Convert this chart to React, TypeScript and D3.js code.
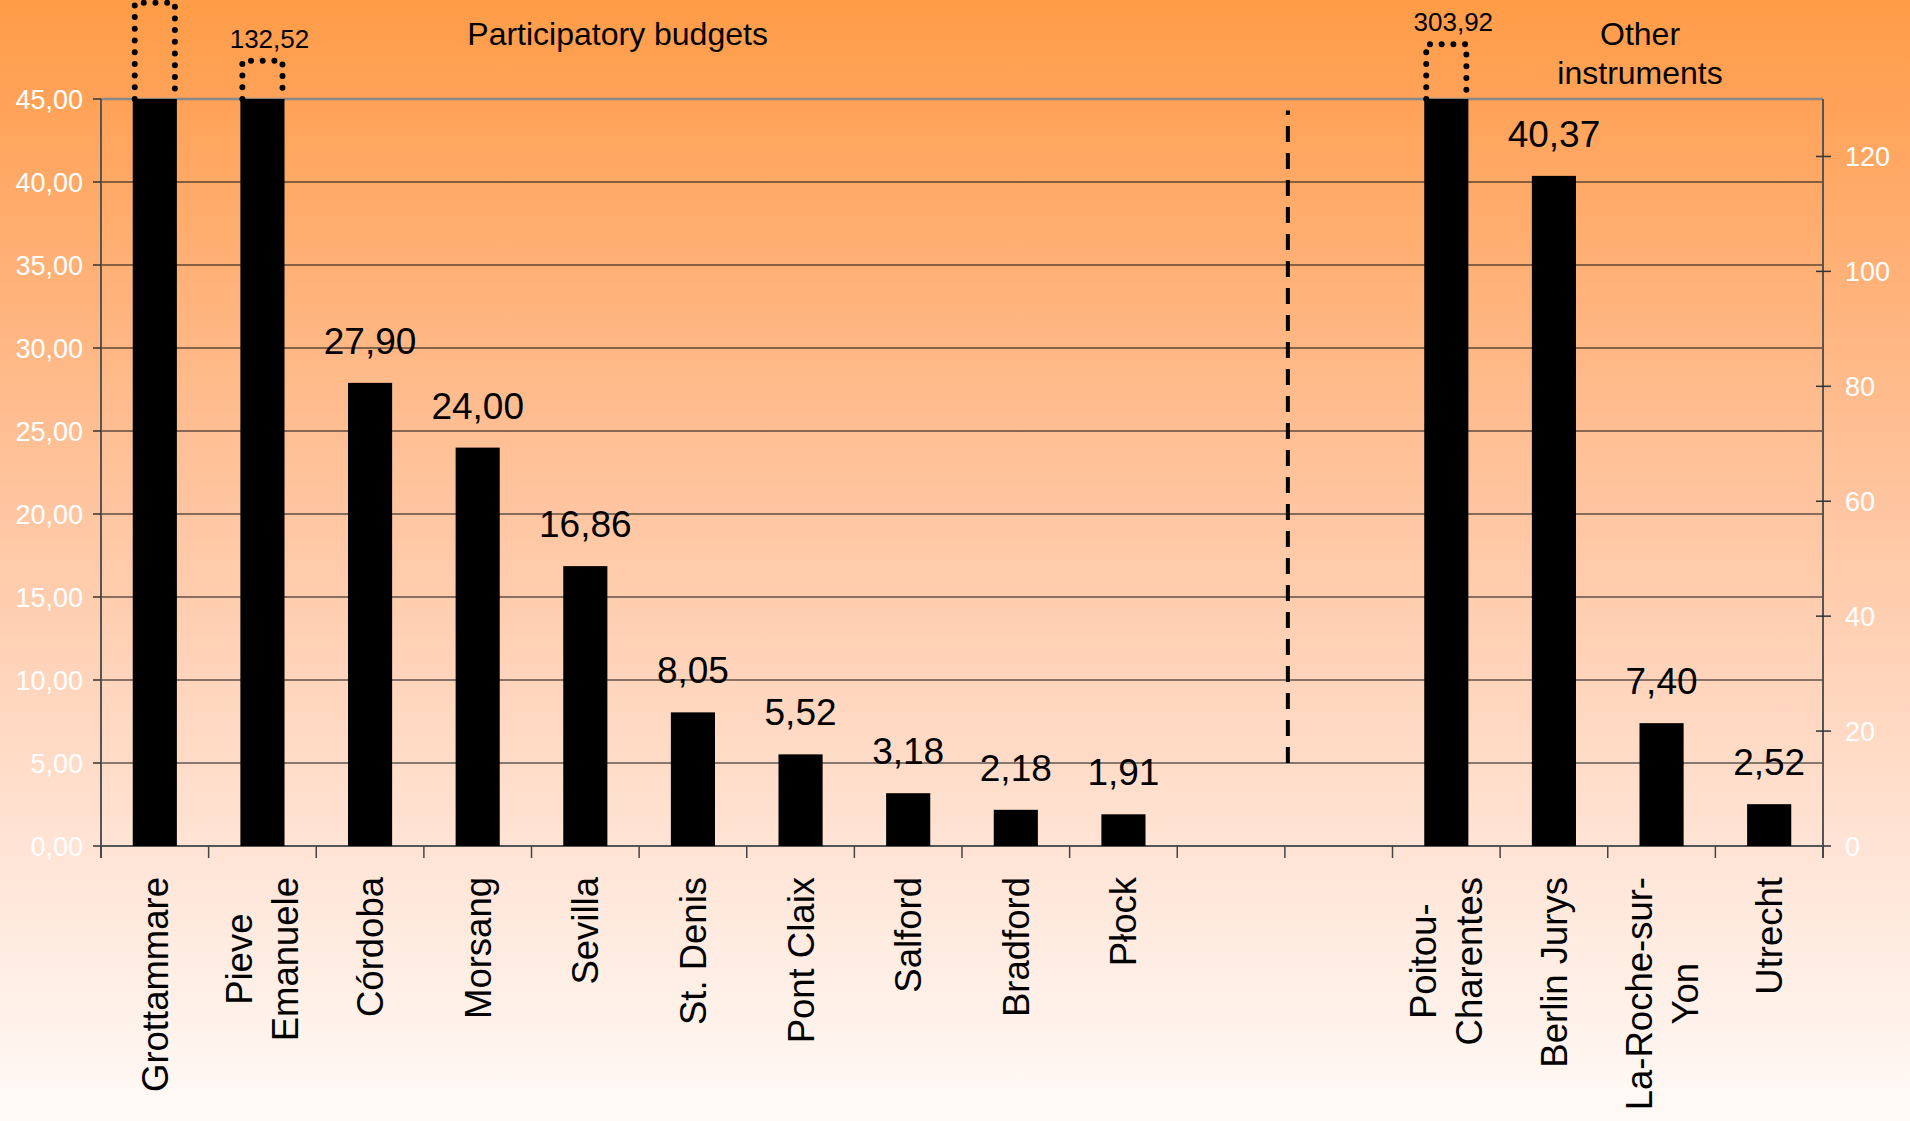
import React, { useRef, useEffect } from 'react';
import * as d3 from 'd3';

// slots, in drawing order; empty names are the gap between the two groups
const categories = [
  'Grottammare', 'Pieve\nEmanuele', 'Córdoba', 'Morsang', 'Sevilla', 'St. Denis',
  'Pont Claix', 'Salford', 'Bradford', 'Płock', '', '',
  'Poitou-\nCharentes', 'Berlin Jurys', 'La-Roche-sur-\nYon', 'Utrecht',
];
// null = off the chart, value not printed
const values = [null, 132.52, 27.9, 24.0, 16.86, 8.05, 5.52, 3.18, 2.18, 1.91, NaN, NaN, 303.92, 40.37, 7.4, 2.52];
// how far the dotted "break" box climbs above the axis top (left-axis units)
const breakTo = [50.8, 47.3, 0, 0, 0, 0, 0, 0, 0, 0, 0, 0, 48.3, 0, 0, 0];
const leftTicks = [0, 5, 10, 15, 20, 25, 30, 35, 40, 45];
const rightTicks = [0, 20, 40, 60, 80, 100, 120];
// group titles, centred at a slot position
const groupTitles = [
  { text: ['Participatory budgets'], at: 4.8 },
  { text: ['Other', 'instruments'], at: 14.3 },
];

const W = 1910;
const H = 1121;
const FONT = "'Liberation Sans', Arial, sans-serif";

const App = () => {
  const svgRef = useRef<SVGSVGElement>(null);

  useEffect(() => {
    const svg = d3.select(svgRef.current);
    svg.selectAll('*').remove();

    const left = 101, right = 1823, top = 99, bottom = 846;
    const fmt = (v: number) => v.toFixed(2).replace('.', ',');

    const x = d3.scaleBand<number>().domain(d3.range(categories.length)).range([left, right]).padding(0);
    const y = d3.scaleLinear().domain([0, 45]).range([bottom, top]);
    const y2 = d3.scaleLinear().domain([0, 130]).range([bottom, top]);
    const bw = x.bandwidth() * 0.41;

    const defs = svg.append('defs');
    const grad = defs.append('linearGradient').attr('id', 'bg').attr('x1', 0).attr('y1', 0).attr('x2', 0).attr('y2', 1);
    [
      [0, '#ff9c47'],
      [0.1, '#ffa35a'],
      [0.45, '#ffc5a0'],
      [0.75, '#ffe3d4'],
      [1, '#fffaf7'],
    ].forEach(([o, c]) => grad.append('stop').attr('offset', o as number).attr('stop-color', c as string));
    svg.append('rect').attr('width', W).attr('height', H).attr('fill', 'url(#bg)');

    // gridlines
    svg.append('g').selectAll('line').data(leftTicks.filter((t) => t > 0)).join('line')
      .attr('x1', left).attr('x2', right)
      .attr('y1', (d) => y(d)).attr('y2', (d) => y(d))
      .attr('stroke', (d) => (d === 45 ? '#888' : '#111'))
      .attr('stroke-width', (d) => (d === 45 ? 2.5 : 1.2));

    // left axis
    const la = svg.append('g');
    la.append('line').attr('x1', left).attr('x2', left).attr('y1', top).attr('y2', bottom + 12)
      .attr('stroke', '#555').attr('stroke-width', 2);
    la.selectAll('line.t').data(leftTicks).join('line').attr('class', 't')
      .attr('x1', left - 8).attr('x2', left).attr('y1', (d) => y(d)).attr('y2', (d) => y(d))
      .attr('stroke', '#333').attr('stroke-width', 1.5);
    la.selectAll('text').data(leftTicks).join('text')
      .attr('x', left - 18).attr('y', (d) => y(d)).attr('dy', '0.36em')
      .attr('text-anchor', 'end').attr('fill', '#fff')
      .style('font-family', FONT).style('font-size', '27px')
      .text((d) => fmt(d));

    // right axis
    const ra = svg.append('g');
    ra.append('line').attr('x1', right).attr('x2', right).attr('y1', top).attr('y2', bottom + 12)
      .attr('stroke', '#555').attr('stroke-width', 2);
    ra.selectAll('line.t').data(rightTicks).join('line').attr('class', 't')
      .attr('x1', right - 7).attr('x2', right + 8).attr('y1', (d) => y2(d)).attr('y2', (d) => y2(d))
      .attr('stroke', '#333').attr('stroke-width', 1.5);
    ra.selectAll('text').data(rightTicks).join('text')
      .attr('x', right + 22).attr('y', (d) => y2(d)).attr('dy', '0.36em')
      .attr('text-anchor', 'start').attr('fill', '#fff')
      .style('font-family', FONT).style('font-size', '27px')
      .text((d) => d);

    // bottom axis
    svg.append('line').attr('x1', left).attr('x2', right).attr('y1', bottom).attr('y2', bottom)
      .attr('stroke', '#555').attr('stroke-width', 2);
    svg.append('g').selectAll('line').data(d3.range(categories.length + 1)).join('line')
      .attr('x1', (i) => left + i * x.step()).attr('x2', (i) => left + i * x.step())
      .attr('y1', bottom).attr('y2', bottom + 12)
      .attr('stroke', '#444').attr('stroke-width', 1.5);

    const items = categories.map((name, i) => ({ name, v: values[i], brk: breakTo[i], i }))
      .filter((d) => d.name !== '');
    const cx = (i: number) => (x(i) as number) + x.bandwidth() / 2;
    const barH = (v: number | null) => (v === null ? 45 : Math.min(v, 45));

    // bars
    svg.append('g').selectAll('rect').data(items).join('rect')
      .attr('x', (d) => cx(d.i) - bw / 2).attr('width', bw)
      .attr('y', (d) => y(barH(d.v))).attr('height', (d) => bottom - y(barH(d.v)))
      .attr('fill', '#000');

    // dotted break boxes for clipped bars
    const clipped = items.filter((d) => d.brk > 0);
    svg.append('g').selectAll('path').data(clipped).join('path')
      .attr('d', (d) => {
        const x0 = cx(d.i) - bw / 2 + 2, x1 = cx(d.i) + bw / 2 - 2;
        return `M${x0},${y(45)}V${y(d.brk)}H${x1}V${y(45)}`;
      })
      .attr('fill', 'none').attr('stroke', '#000').attr('stroke-width', 6)
      .attr('stroke-linecap', 'round').attr('stroke-dasharray', '0 11.7');

    // value labels
    svg.append('g').selectAll('text').data(items.filter((d) => d.v !== null)).join('text')
      .attr('x', (d) => cx(d.i) + (d.brk > 0 ? 7 : 0)).attr('text-anchor', 'middle')
      .attr('y', (d) => (d.brk > 0 ? y(d.brk) - 13 : y(d.v as number) - 29))
      .attr('fill', '#000').style('font-family', FONT)
      .style('font-size', (d) => (d.brk > 0 ? '26px' : '37px'))
      .text((d) => fmt(d.v as number));

    // divider between the groups
    svg.append('line')
      .attr('x1', left + 11 * x.step() + 3).attr('x2', left + 11 * x.step() + 3)
      .attr('y1', y(5)).attr('y2', y(44.3))
      .attr('stroke', '#000').attr('stroke-width', 4).attr('stroke-dasharray', '16 11');

    // group titles
    groupTitles.forEach((g) => {
      const gx = left + g.at * x.step();
      const t = svg.append('text').attr('text-anchor', 'middle').attr('fill', '#000')
        .style('font-family', FONT).style('font-size', '32px');
      g.text.forEach((line, k) => {
        t.append('tspan').attr('x', gx).attr('y', 45 + k * 39).text(line);
      });
    });

    // category labels, rotated
    const labTop = 877;
    const lineGap = 46;
    items.forEach((d) => {
      const lines = d.name.split('\n');
      const g = svg.append('g');
      const texts = lines.map((line) => g.append('text').attr('text-anchor', 'middle').attr('fill', '#000')
        .style('font-family', FONT).style('font-size', '36.5px').text(line));
      const maxLen = d3.max(texts, (t) => (t.node() as SVGTextElement).getComputedTextLength()) as number;
      g.attr('transform', `translate(${cx(d.i)},${labTop + maxLen / 2}) rotate(-90)`);
      texts.forEach((t, k) => t.attr('x', 0).attr('y', (k - (lines.length - 1) / 2) * lineGap + 13));
    });
  }, []);

  return (
    <svg ref={svgRef} width={W} height={H} style={{ position: 'absolute', left: 0, top: 0, display: 'block' }} />
  );
};

export default App;
